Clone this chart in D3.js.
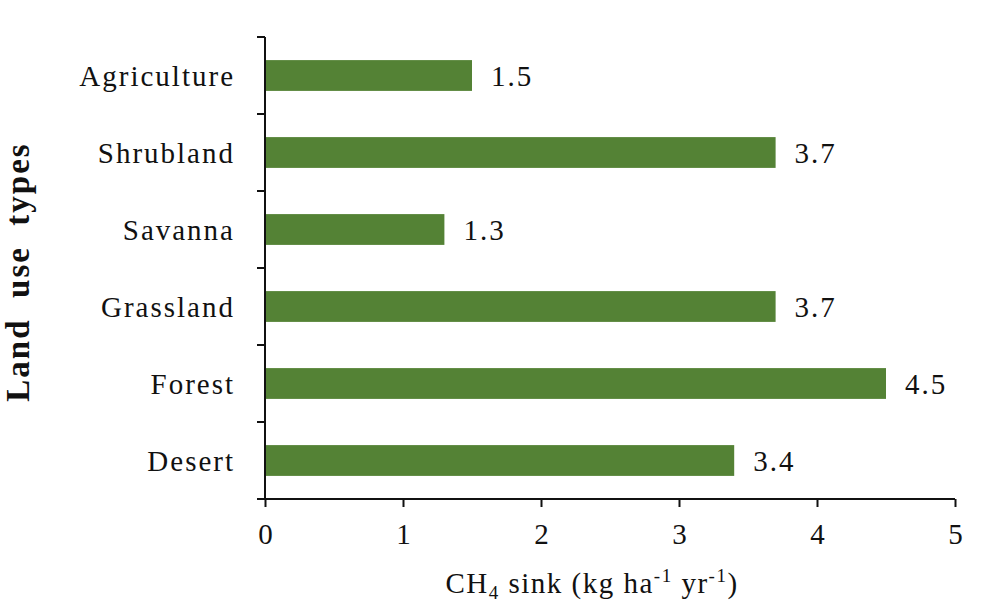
<!DOCTYPE html>
<html><head><meta charset="utf-8">
<script src="https://cdn.jsdelivr.net/npm/d3@7"></script>
<style>body{margin:0;background:#fff}svg text{font-family:"Liberation Serif","Times New Roman",serif;fill:#111}</style>
</head><body>
<svg id="c" width="1000" height="613"></svg>
<script>
const categories = ["Agriculture","Shrubland","Savanna","Grassland","Forest","Desert"];
const values = [1.5,3.7,1.3,3.7,4.5,3.4];
const xTicks = [0,1,2,3,4,5];

const svg = d3.select("#c");
const x = d3.scaleLinear().domain([0,5]).range([265,955]);
const y = d3.scaleBand().domain(categories).range([37,499]).paddingInner(0.6).paddingOuter(0.3);
const yb = d3.scaleBand().domain(categories).range([37,499]);

// bars
svg.selectAll("rect.bar").data(categories).enter().append("rect")
  .attr("x", x(0)).attr("y", d=>y(d))
  .attr("width", (d,i)=>x(values[i])-x(0)).attr("height", y.bandwidth())
  .attr("fill","#548235");

// value labels
svg.selectAll("text.val").data(categories).enter().append("text")
  .attr("x",(d,i)=>x(values[i])+19).attr("y", d=>y(d)+y.bandwidth()/2)
  .attr("dy","0.35em").attr("font-size",29).attr("letter-spacing",2).text((d,i)=>values[i].toFixed(1));

// x axis
const xa = svg.append("g").attr("transform","translate(0,499)")
  .call(d3.axisBottom(x).tickValues(xTicks).tickSize(8).tickPadding(16).tickFormat(d3.format("d")));
xa.select(".domain").attr("stroke","#111").attr("stroke-width",2).attr("d","M265,0H955");
xa.selectAll(".tick line").attr("stroke","#111").attr("stroke-width",2);
xa.selectAll(".tick text").attr("font-size",29).attr("font-family","Liberation Serif").attr("fill","#111");

// y axis: ticks at band boundaries
const ya = svg.append("g").attr("transform","translate(265,0)");
ya.append("line").attr("x1",0).attr("x2",0).attr("y1",37).attr("y2",499).attr("stroke","#111").attr("stroke-width",2);
const bounds = categories.map(c=>yb(c)).concat([499]);
ya.selectAll("line.t").data(bounds).enter().append("line")
  .attr("x1",-8).attr("x2",0).attr("y1",d=>d).attr("y2",d=>d).attr("stroke","#111").attr("stroke-width",2);
ya.selectAll("text.cat").data(categories).enter().append("text")
  .attr("x",-30).attr("y",d=>yb(d)+yb.bandwidth()/2).attr("dy","0.35em")
  .attr("text-anchor","end").attr("font-size",29).attr("letter-spacing",2).text(d=>d);

// axis titles
const xt = svg.append("text").attr("x",592).attr("y",593).attr("text-anchor","middle").attr("font-size",29).attr("letter-spacing",1.5);
xt.append("tspan").text("CH");
xt.append("tspan").attr("font-size",19).attr("dy",6).text("4");
xt.append("tspan").attr("dy",-6).text(" sink (kg ha");
xt.append("tspan").attr("font-size",19).attr("dy",-11).text("-1");
xt.append("tspan").attr("dy",11).text(" yr");
xt.append("tspan").attr("font-size",19).attr("dy",-11).text("-1");
xt.append("tspan").attr("dy",11).text(")");

svg.append("text").attr("transform","translate(29,272) rotate(-90)").attr("text-anchor","middle")
  .attr("font-size",33).attr("font-weight","bold").attr("letter-spacing",2).style("white-space","pre").text("Land  use  types");
</script>
</body></html>
